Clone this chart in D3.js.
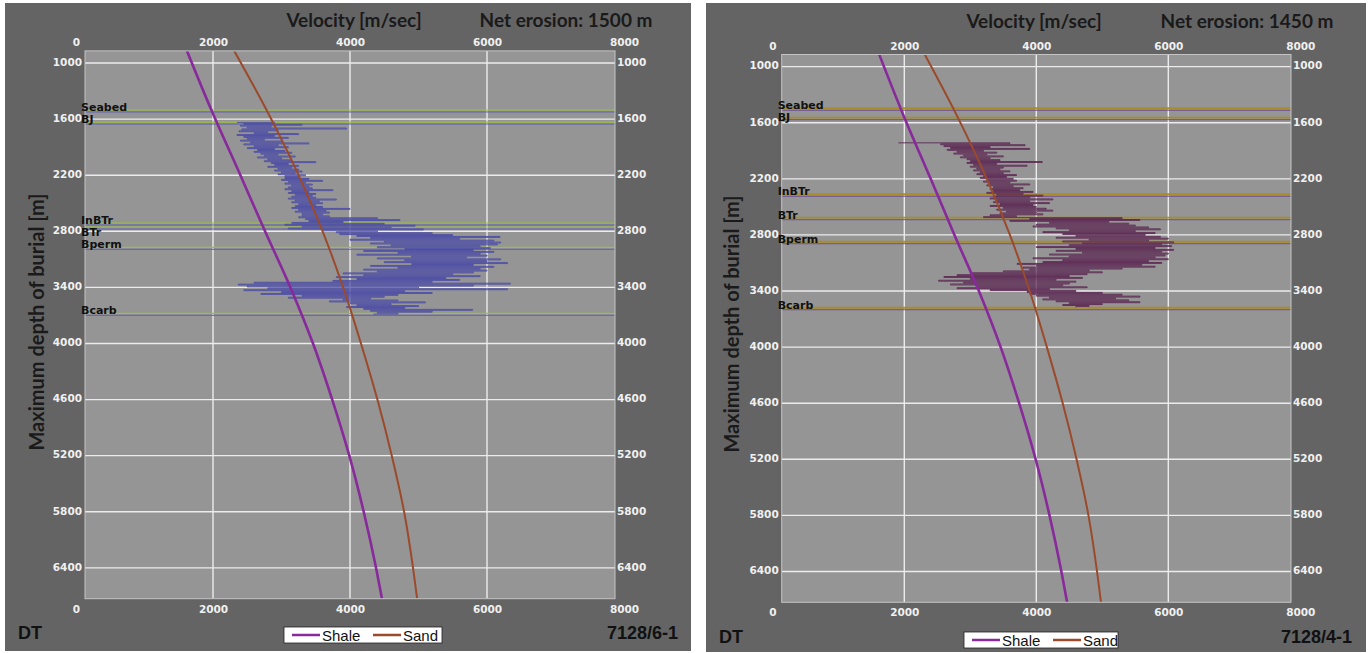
<!doctype html>
<html lang="en">
<head>
<meta charset="utf-8">
<title>Velocity vs maximum burial depth</title>
<script src="https://d3js.org/d3.v7.min.js"></script>
<style>
  body { margin: 0; background: #fff; }
  svg text { font-family: "DejaVu Sans", sans-serif; }
</style>
</head>
<body>
<svg id="chart" width="1372" height="653"></svg>
<script>
// axis ticks, shared by both wells
const velTicks = [0, 2000, 4000, 6000, 8000];
const depthTicks = [1000, 1600, 2200, 2800, 3400, 4000, 4600, 5200, 5800, 6400];
const depthDomain = [870, 6730];

// compaction trends (same curves in both plots)
const shaleDepth = [870, 1500, 2200, 2800, 3400, 4000, 4600, 5200, 5800, 6400, 6730];
const shaleVel   = [1620, 1975, 2400, 2760, 3130, 3460, 3740, 3990, 4200, 4380, 4467];
const sandDepth  = [870, 1500, 2200, 2800, 3400, 4000, 4600, 5200, 5800, 6400, 6730];
const sandVel    = [2310, 2780, 3250, 3600, 3900, 4160, 4400, 4610, 4790, 4920, 4980];

// formation tops
const topNames = ["Seabed", "BJ", "InBTr", "BTr", "Bperm", "Bcarb"];
const tops61 = [1502, 1631, 2711, 2754, 2971, 3677];
const tops41 = [1445, 1546, 2365, 2616, 2873, 3579];

// DT log converted to velocity, sampled every 10 m
const logStep = 10;
const log61Top = 1635;
const log61 = [
  2350, 2900, 2450, 3300, 2400, 2850, 2500, 3950, 2420, 2950,
  2380, 2800, 2600, 3250, 2350, 2900, 2450, 3100, 2500, 2750,
  2400, 3000, 2550, 3400, 2450, 2950, 2600, 3100, 2500, 2900,
  2650, 3050, 2600, 3150, 2700, 2950, 2750, 3200, 2650, 3000,
  2800, 3150, 2750, 3500, 2850, 3100, 2900, 3250, 2800, 3150,
  2950, 3250, 2900, 3300, 3000, 3200, 2950, 3350, 3050, 3250,
  3050, 3400, 3000, 3600, 3100, 3350, 3050, 3450, 3150, 3400,
  3100, 3450, 3050, 3750, 3150, 3400, 3100, 3500, 3200, 3450,
  3150, 3500, 3100, 3800, 3200, 3550, 3150, 3600, 3250, 3500,
  3200, 3600, 3150, 4000, 3250, 3650, 3200, 3700, 3300, 3600,
  3300, 3700, 3250, 4400, 3350, 4730, 3400, 3900, 3150, 4500,
  3050, 4950, 3300, 4600, 3100, 5070, 3600, 4400, 3800, 5200,
  3850, 5500, 4100, 6190, 4300, 5600, 4000, 6100, 4500, 6200,
  4300, 6150, 4600, 5900, 4400, 6050, 4800, 5800, 4200, 6100,
  4700, 5900, 4100, 6000, 4900, 5700, 4400, 6200, 4800, 6000,
  4500, 6300, 4900, 5800, 4300, 6100, 4700, 5900, 4200, 6000,
  4400, 5800, 3900, 5500, 4200, 5900, 3800, 5400, 4100, 5600,
  3750, 5200, 2600, 6340, 2370, 5800, 2500, 5000, 2800, 6300,
  2450, 4800, 3000, 5200, 2700, 4700, 3300, 4500, 3100, 4300,
  3900, 4700, 3700, 5100, 4000, 4600, 4100, 5000, 3950, 4800,
  4200, 5790, 4300, 5200, 4400, 4700, 4350
];
const log41Top = 1815;
const log41 = [
  1910, 3600, 2550, 3830, 2600, 3300, 2700, 3900, 2650, 3200,
  2800, 3400, 2750, 3250, 2900, 3500, 2850, 3300, 2950, 3450,
  3000, 4090, 2950, 3400, 3050, 3860, 3000, 3500, 3100, 3450,
  3050, 3600, 3150, 3500, 3100, 3700, 3200, 3550, 3150, 3650,
  3250, 3700, 3200, 3600, 3300, 3900, 3250, 3650, 3350, 3800,
  3300, 3750, 3350, 3950, 3250, 3800, 3400, 4100, 3350, 3900,
  3300, 4250, 3400, 3900, 3350, 4200, 3450, 3950, 3300, 4000,
  3500, 4150, 3400, 4250, 3550, 4000, 3450, 4100, 3300, 3700,
  3200, 5300, 3900, 5570, 3600, 5100, 4200, 5400, 4000, 5500,
  3950, 5700, 4300, 5880, 4500, 5500, 4100, 5800, 4400, 5650,
  4600, 5880, 4300, 6000, 4800, 5700, 4400, 6080, 4700, 5900,
  4500, 6050, 4000, 5800, 4600, 6080, 4300, 5900, 4700, 6000,
  4200, 5950, 4500, 5800, 3950, 6000, 4400, 5700, 4100, 5900,
  3710, 5600, 4000, 5800, 3800, 5300, 3900, 4800, 3500, 5000,
  3000, 4770, 2800, 4500, 2600, 4700, 3000, 4300, 2520, 4600,
  2900, 4500, 2700, 4400, 3100, 4770, 2800, 4200, 3300, 4600,
  3860, 5000, 3900, 5300, 4000, 5570, 4200, 5200, 4100, 5400,
  4300, 5570, 4500, 5000, 4400, 4800, 4600
];

const panels = [
  {
    well: "7128/6-1", erosion: "Net erosion: 1500 m",
    log: log61, logTop: log61Top, tops: tops61,
    box: [5, 3, 686, 648], xr: [76, 624], fx: [85, 615], fy: [50.9, 598.7],
    logColor: "#4a4aa8", topColor: "#9dbf3a", topColor2: "#5e5eb8",
    titleX: 354, erosionX: 566, titleY: 27, ytitleX: 36, ytitleY: 322,
    footY: 639, dtX: 18, wellX: 678, legend: [284, 627, 158]
  },
  {
    well: "7128/4-1", erosion: "Net erosion: 1450 m",
    log: log41, logTop: log41Top, tops: tops41,
    box: [706, 3, 660, 649], xr: [772.3, 1300.3], fx: [781.7, 1291], fy: [54.5, 602.3],
    logColor: "#5b2552", topColor: "#a98d28", topColor2: "#6e4e94",
    titleX: 1034, erosionX: 1247, titleY: 28, ytitleX: 731, ytitleY: 324,
    footY: 643, dtX: 719, wellX: 1352, legend: [964, 632, 154]
  }
];

const svg = d3.select("#chart");

panels.forEach((p, i) => drawPanel(p, i));

function drawPanel(p, i) {
  const g = svg.append("g");
  const [fx0, fx1] = p.fx;
  const [fy0, fy1] = p.fy;

  const x = d3.scaleLinear().domain([0, 8000]).range(p.xr);
  const y = d3.scaleLinear().domain(depthDomain).range(p.fy);

  g.append("rect")
    .attr("x", p.box[0]).attr("y", p.box[1])
    .attr("width", p.box[2]).attr("height", p.box[3])
    .attr("fill", "#646464");

  g.append("rect")
    .attr("x", fx0).attr("y", fy0)
    .attr("width", fx1 - fx0).attr("height", fy1 - fy0)
    .attr("fill", "#959595");

  g.append("clipPath").attr("id", "clip" + i)
    .append("rect")
    .attr("x", fx0).attr("y", fy0)
    .attr("width", fx1 - fx0).attr("height", fy1 - fy0);

  const plot = g.append("g").attr("clip-path", `url(#clip${i})`);

  // grid
  plot.selectAll("line.vgrid")
    .data(velTicks.filter(v => x(v) > fx0 && x(v) < fx1))
    .join("line")
    .attr("class", "vgrid")
    .attr("x1", d => x(d)).attr("x2", d => x(d))
    .attr("y1", fy0).attr("y2", fy1)
    .attr("stroke", "#ececec").attr("stroke-width", 1.4);

  plot.selectAll("line.hgrid")
    .data(depthTicks)
    .join("line")
    .attr("class", "hgrid")
    .attr("x1", fx0).attr("x2", fx1)
    .attr("y1", d => y(d)).attr("y2", d => y(d))
    .attr("stroke", "#ececec").attr("stroke-width", 1.4);

  // formation tops: double line
  plot.selectAll("line.top2")
    .data(p.tops)
    .join("line")
    .attr("class", "top2")
    .attr("x1", fx0).attr("x2", fx1)
    .attr("y1", d => y(d) + 2).attr("y2", d => y(d) + 2)
    .attr("stroke", p.topColor2).attr("stroke-width", 1);

  plot.selectAll("line.top")
    .data(p.tops)
    .join("line")
    .attr("class", "top")
    .attr("x1", fx0).attr("x2", fx1)
    .attr("y1", d => y(d)).attr("y2", d => y(d))
    .attr("stroke", p.topColor).attr("stroke-width", i === 0 ? 1.2 : 1.8);

  // DT log, drawn as horizontal steps between samples
  const logPts = p.log.map((v, k) => [v, p.logTop + k * logStep]);
  plot.append("path")
    .datum(logPts)
    .attr("fill", "none")
    .attr("stroke", p.logColor)
    .attr("stroke-width", 1)
    .attr("opacity", 0.88)
    .attr("d", d3.line().x(d => x(d[0])).y(d => y(d[1])).curve(d3.curveStepAfter));

  // trends
  const trend = d3.line().x(d => x(d[0])).y(d => y(d[1])).curve(d3.curveMonotoneY);
  plot.append("path")
    .datum(shaleVel.map((v, k) => [v, shaleDepth[k]]))
    .attr("fill", "none").attr("stroke", "#88299c").attr("stroke-width", 2.6)
    .attr("d", trend);
  plot.append("path")
    .datum(sandVel.map((v, k) => [v, sandDepth[k]]))
    .attr("fill", "none").attr("stroke", "#9b4a2b").attr("stroke-width", 2)
    .attr("d", trend);

  // frame
  g.append("rect")
    .attr("x", fx0).attr("y", fy0)
    .attr("width", fx1 - fx0).attr("height", fy1 - fy0)
    .attr("fill", "none").attr("stroke", "#c4c4c4").attr("stroke-width", 1);

  // axes
  const styleAxis = sel => {
    sel.select(".domain").remove();
    sel.selectAll("text")
      .attr("fill", "#f0f0f0")
      .style("font-family", "'DejaVu Sans', sans-serif")
      .style("font-size", "10.5px")
      .style("font-weight", "bold");
  };

  g.append("g")
    .attr("transform", `translate(0,${fy0})`)
    .call(d3.axisTop(x).tickValues(velTicks).tickSize(0).tickPadding(4.5).tickFormat(d3.format("d")))
    .call(styleAxis);

  g.append("g")
    .attr("transform", `translate(0,${fy1})`)
    .call(d3.axisBottom(x).tickValues(velTicks).tickSize(0).tickPadding(6.5).tickFormat(d3.format("d")))
    .call(styleAxis);

  g.append("g")
    .attr("transform", `translate(${fx0},0)`)
    .call(d3.axisLeft(y).tickValues(depthTicks).tickSize(0).tickPadding(3).tickFormat(d3.format("d")))
    .call(styleAxis)
    .selectAll("text").attr("dy", "0.22em");

  g.append("g")
    .attr("transform", `translate(${fx1},0)`)
    .call(d3.axisRight(y).tickValues(depthTicks).tickSize(0).tickPadding(2).tickFormat(d3.format("d")))
    .call(styleAxis)
    .selectAll("text").attr("dy", "0.22em");

  // top labels, pushed down when they would overlap
  let prev = -Infinity;
  const labelY = p.tops.map(d => {
    let b = y(d) + 1;
    if (b < prev + 12) b = prev + 12;
    prev = b;
    return b;
  });
  g.selectAll("text.toplabel")
    .data(topNames)
    .join("text")
    .attr("class", "toplabel")
    .attr("x", fx0 - 4)
    .attr("y", (d, k) => labelY[k])
    .attr("fill", "#111")
    .style("font-size", "11px")
    .style("font-weight", "bold")
    .text(d => d);

  // titles
  g.append("text")
    .attr("x", p.titleX).attr("y", p.titleY)
    .attr("text-anchor", "middle")
    .attr("fill", "#1a1a1a")
    .style("font-family", "Lato, sans-serif")
    .style("font-size", "19px").style("font-weight", "bold")
    .text("Velocity [m/sec]");

  g.append("text")
    .attr("x", p.erosionX).attr("y", p.titleY)
    .attr("text-anchor", "middle")
    .attr("fill", "#1a1a1a")
    .style("font-family", "Lato, sans-serif")
    .style("font-size", "19px").style("font-weight", "bold")
    .text(p.erosion);

  g.append("text")
    .attr("transform", `translate(${p.ytitleX},${p.ytitleY}) rotate(-90)`)
    .attr("text-anchor", "middle")
    .attr("dominant-baseline", "central")
    .attr("fill", "#1a1a1a")
    .style("font-family", "Lato, sans-serif")
    .style("font-size", "20px").style("font-weight", "bold")
    .text("Maximum depth of burial [m]");

  g.append("text")
    .attr("x", p.dtX).attr("y", p.footY)
    .attr("fill", "#111")
    .style("font-family", "'Liberation Sans', sans-serif")
    .style("font-size", "18px").style("font-weight", "bold")
    .text("DT");

  g.append("text")
    .attr("x", p.wellX).attr("y", p.footY)
    .attr("text-anchor", "end")
    .attr("fill", "#111")
    .style("font-family", "'Liberation Sans', sans-serif")
    .style("font-size", "18px").style("font-weight", "bold")
    .text(p.well);

  // legend
  const [lx, ly, lw] = p.legend;
  const lg = g.append("g").attr("transform", `translate(${lx},${ly})`);
  lg.append("rect")
    .attr("width", lw).attr("height", 16)
    .attr("fill", "#fff").attr("stroke", "#222").attr("stroke-width", 0.8);
  const items = [["Shale", "#88299c", 8], ["Sand", "#9b4a2b", 89]];
  items.forEach(([name, col, off]) => {
    lg.append("line")
      .attr("x1", off).attr("x2", off + 28)
      .attr("y1", 8).attr("y2", 8)
      .attr("stroke", col).attr("stroke-width", 2.5);
    lg.append("text")
      .attr("x", off + 30).attr("y", 13.5)
      .attr("fill", "#111")
      .style("font-family", "'Liberation Sans Narrow', 'Liberation Sans', sans-serif")
      .style("font-size", "15px")
      .text(name);
  });
}
</script>
</body>
</html>
